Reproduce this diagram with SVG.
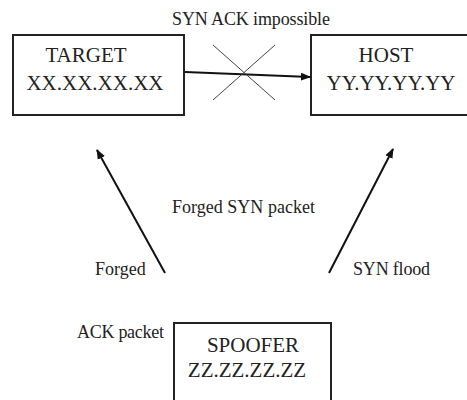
<svg xmlns="http://www.w3.org/2000/svg" width="467" height="400" viewBox="0 0 467 400">
<defs>
<marker id="ah" viewBox="0 0 10 10" refX="9" refY="5" markerWidth="10" markerHeight="10" markerUnits="userSpaceOnUse" orient="auto">
<path d="M0,1 L10,5 L0,9 z" fill="#111"/>
</marker>
<style>
.box{fill:#fff;stroke:#222;stroke-width:2}
.big{font-family:"Liberation Serif",serif;font-size:21px;fill:#222;text-anchor:middle}
.lbl{font-family:"Liberation Serif",serif;font-size:18px;fill:#222}
.arr{stroke:#111;stroke-width:2;fill:none;marker-end:url(#ah)}
.x{stroke:#444;stroke-width:1}
</style>
</defs>
<rect width="467" height="400" fill="#fff"/>
<g id="target">
<rect class="box" x="13" y="35" width="171" height="80"/>
<text class="big" x="86" y="62">TARGET</text>
<text class="big" x="95" y="90">XX.XX.XX.XX</text>
</g>
<g id="host">
<rect class="box" x="311" y="35" width="170" height="80"/>
<text class="big" x="386" y="62">HOST</text>
<text class="big" x="391" y="90">YY.YY.YY.YY</text>
</g>
<g id="spoofer">
<rect class="box" x="174" y="323" width="157" height="90"/>
<text class="big" x="253" y="352">SPOOFER</text>
<text class="big" x="247" y="377">ZZ.ZZ.ZZ.ZZ</text>
</g>
<g id="connectors">
<line class="arr" x1="185" y1="72" x2="310" y2="77"/>
<line class="x" x1="213" y1="45" x2="275" y2="100"/>
<line class="x" x1="275" y1="45" x2="213" y2="100"/>
<line class="arr" x1="165" y1="273" x2="97" y2="150"/>
<line class="arr" x1="329" y1="273" x2="393" y2="149"/>
</g>
<g id="labels">
<text class="lbl" x="172" y="25" textLength="158" lengthAdjust="spacing">SYN ACK impossible</text>
<text class="lbl" x="172" y="213" textLength="143" lengthAdjust="spacing">Forged SYN packet</text>
<text class="lbl" x="95" y="275">Forged</text>
<text class="lbl" x="353" y="275" textLength="77" lengthAdjust="spacing">SYN flood</text>
<text class="lbl" x="77" y="338" textLength="87" lengthAdjust="spacing">ACK packet</text>
</g>
</svg>
